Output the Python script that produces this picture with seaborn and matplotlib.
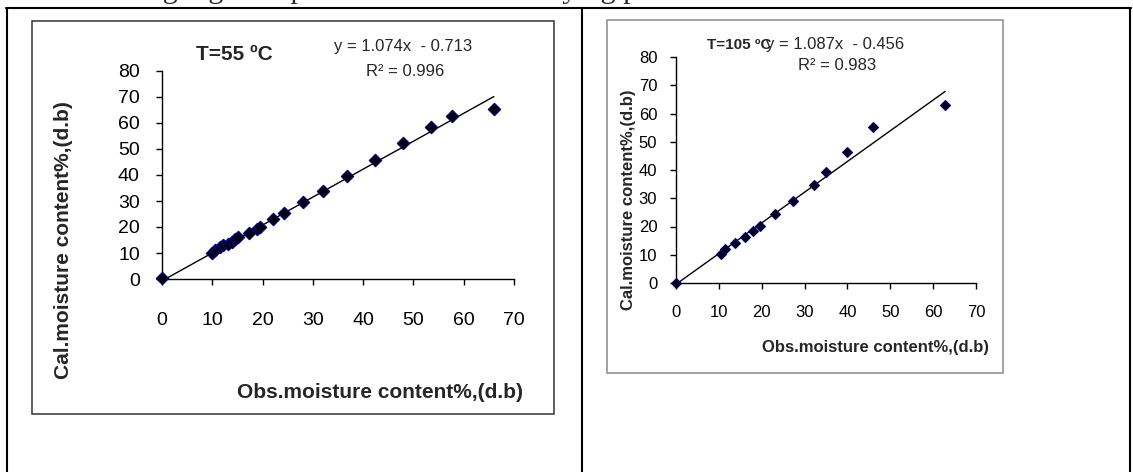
import numpy as np
import pandas as pd
import matplotlib
matplotlib.use("Agg")
import matplotlib.pyplot as plt
from matplotlib.patches import Rectangle
import seaborn as sns

obs_55 = [0, 9.9, 10.5, 11.5, 12.2, 13.2, 13.9, 14.5, 15.2, 17.4, 18.8, 19.5,
          22.1, 24.3, 28.1, 32.0, 36.8, 42.3, 48.0, 53.5, 57.7, 66.0]
cal_55 = [0.5, 10.0, 11.2, 12.2, 12.9, 13.6, 14.3, 15.2, 16.2, 17.8, 19.3, 20.1,
          22.9, 25.2, 29.6, 33.8, 39.5, 45.6, 52.3, 58.3, 62.5, 65.5]
obs_105 = [0, 10.4, 11.5, 13.7, 16.1, 17.9, 19.6, 23.1, 27.4, 32.2, 35.0, 40.0, 46.0, 62.8]
cal_105 = [0, 10.4, 11.9, 14.2, 16.4, 18.3, 20.3, 24.3, 29.0, 34.8, 39.3, 46.5, 55.1, 63.0]

# trendlines as printed on the charts
fit_55 = [1.074, -0.713, 0.996]
fit_105 = [1.087, -0.456, 0.983]

x_ticks = [0, 10, 20, 30, 40, 50, 60, 70]
y_ticks = [0, 10, 20, 30, 40, 50, 60, 70, 80]
xlab = "Obs.moisture content%,(d.b)"
ylab = "Cal.moisture content%,(d.b)"
caption = "the model during high temperature of the solar drying process."

sns.set_style("ticks")
plt.rcParams["font.family"] = ["Liberation Sans", "DejaVu Sans"]

W, H = 1133, 472
fig = plt.figure(figsize=(W / 100, H / 100), dpi=100)

# background layer in pixel coords: table lines, chart frames, loose text
bg = fig.add_axes([0, 0, 1, 1])
bg.set_xlim(0, W)
bg.set_ylim(H, 0)
bg.axis("off")
bg.plot([6, 1131], [7.5, 7.5], color="black", lw=1.5)
for xx in [7, 581.5, 1130]:
    bg.plot([xx, xx], [7.5, H + 5], color="black", lw=1.5)
bg.add_patch(Rectangle((32, 21), 522, 393, fill=False, ec="#333333", lw=1.1))
bg.add_patch(Rectangle((607, 20), 396, 353, fill=False, ec="#8a8a8a", lw=1.1))
# only the bottom of the paragraph line above the table is in view
bg.text(-26, -2, caption, family="Liberation Serif", fontsize=21.5,
        ha="left", va="baseline")


def px_axes(x0, y0, x1, y1):
    return fig.add_axes([x0 / W, 1 - y1 / H, (x1 - x0) / W, (y1 - y0) / H])


def draw(ax, obs, cal, fit, ms, fs, lfs, xpad, ypad, xl, yl):
    df = pd.DataFrame({"obs": obs, "cal": cal})
    xs = np.array([0, max(obs)])
    line = pd.DataFrame({"x": xs, "y": fit[0] * xs + fit[1]})
    sns.lineplot(data=line, x="x", y="y", ax=ax, color="black", lw=1.0, zorder=2)
    sns.scatterplot(data=df, x="obs", y="cal", ax=ax, marker="D", s=ms,
                    color="black", edgecolor="#000080", linewidth=1.0,
                    zorder=3, clip_on=False)
    ax.set_xlim(0, 70)
    ax.set_ylim(0, 80)
    ax.set_xticks(x_ticks)
    ax.set_yticks(y_ticks)
    sns.despine(ax=ax)
    for s in ["left", "bottom"]:
        ax.spines[s].set_color("black")
        ax.spines[s].set_linewidth(1.0)
    ax.tick_params(axis="x", labelsize=fs, length=4, width=1, pad=xpad, colors="black")
    ax.tick_params(axis="y", labelsize=fs, length=4, width=1, pad=ypad, colors="black")
    ax.set_xlabel(xlab, fontsize=lfs, fontweight="bold", va="center")
    ax.set_ylabel(ylab, fontsize=lfs, fontweight="bold", va="center")
    ax.xaxis.set_label_coords(*xl)
    ax.yaxis.set_label_coords(*yl)
    ax.patch.set_alpha(0)


ax1 = px_axes(162, 71, 514, 279)
draw(ax1, obs_55, cal_55, fit_55, 38, 14, 15, 20, 12,
     ((380 - 162) / 352, (279 - 392) / 208), ((63 - 162) / 352, (279 - 240) / 208))

ax2 = px_axes(676, 57, 976, 283)
draw(ax2, obs_105, cal_105, fit_105, 24, 12, 12, 11.5, 9.5,
     ((875 - 676) / 300, (283 - 348) / 226), ((629 - 676) / 300, (283 - 200) / 226))

# chart titles and trendline labels
bg.text(234, 55, "T=55 ºC", fontsize=15, fontweight="bold", ha="center", va="center")
bg.text(472, 47, f"y = {fit_55[0]:.3f}x  - {abs(fit_55[1]):.3f}", fontsize=12,
        ha="right", va="center")
bg.text(405, 71, f"R² = {fit_55[2]:.3f}", fontsize=12, ha="center", va="center")

bg.text(904, 45, f"y = {fit_105[0]:.3f}x  - {abs(fit_105[1]):.3f}", fontsize=12,
        ha="right", va="center")
bg.text(837, 65, f"R² = {fit_105[2]:.3f}", fontsize=12, ha="center", va="center")
bg.text(739, 45, "T=105 ºC", fontsize=11, fontweight="bold", ha="center", va="center")

fig.savefig("out.png", dpi=100)
